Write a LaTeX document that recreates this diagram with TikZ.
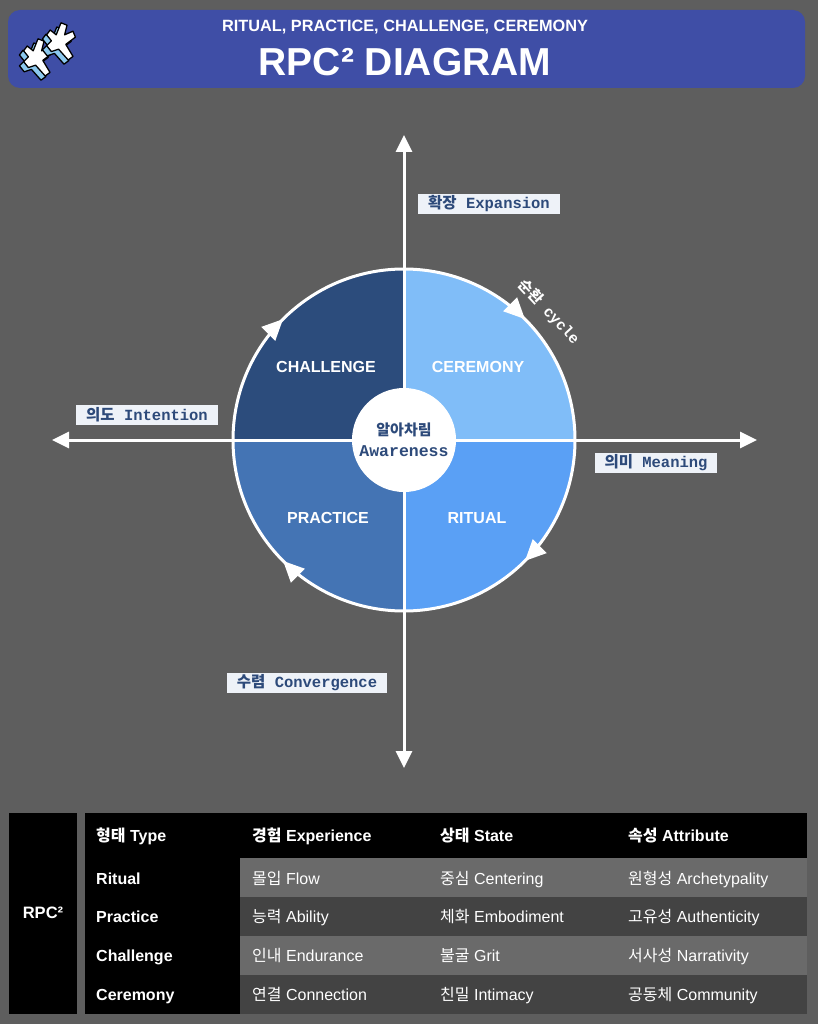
\documentclass[tikz,border=0pt]{standalone}
\usepackage{fontspec}
\setmainfont{Liberation Sans}
\setmonofont{Liberation Mono}
\newfontfamily\kr{Noto Sans CJK KR}
\usepackage{xcolor}
\definecolor{bggray}{RGB}{94,94,94}
\definecolor{headblue}{RGB}{63,78,166}
\definecolor{challengeblue}{RGB}{44,76,124}
\definecolor{ceremonyblue}{RGB}{128,189,248}
\definecolor{practiceblue}{RGB}{68,116,180}
\definecolor{ritualblue}{RGB}{90,160,245}
\definecolor{labelfill}{RGB}{238,242,248}
\definecolor{labeltext}{RGB}{45,74,122}
\definecolor{logoblue}{RGB}{140,200,238}
\definecolor{rowlight}{RGB}{106,106,106}
\definecolor{rowdark}{RGB}{67,67,67}
\usepackage{tikz}
\usetikzlibrary{arrows.meta}
\usetikzlibrary{decorations.markings}
\newcommand{\fsize}[1]{\fontsize{#1}{#1}\selectfont}
\newcommand{\radiusouter}{171}
\newcommand{\radiusinner}{52}
\tikzset{
    axis/.style={white, line width=3pt, {Triangle[length=17pt,width=16pt]}-{Triangle[length=17pt,width=16pt]}},
    axislabel/.style={fill=labelfill, text=labeltext, font=\ttfamily\bfseries\fsize{15.5}, inner xsep=10pt, inner ysep=0pt, minimum height=20pt},
    quadlabel/.style={text=white, font=\bfseries\fsize{16}},
    cycletip/.tip={Triangle[length=21pt,width=19pt]},
    cyclearrows/.style={
        postaction={decorate},
        decoration={markings,
            mark=at position 0.125 with {\arrow[white]{cycletip}},
            mark=at position 0.375 with {\arrow[white]{cycletip}},
            mark=at position 0.625 with {\arrow[white]{cycletip}},
            mark=at position 0.875 with {\arrow[white]{cycletip}}}
    },
    cell/.style={anchor=base west, inner sep=0pt, text=white, font=\fsize{16}},
    headcell/.style={cell, font=\bfseries\fsize{16}},
    typecell/.style={cell, font=\bfseries\fsize{16}},
    logoline/.style={black, line width=1.3pt, line join=round},
    jumper/.pic={
        \draw[logoline, fill=logoblue, shift={(-3.5,3.5)}]
            (-4,-6) -- (0,-16) -- (5,-14) -- (3,-6) -- (10,-9) -- (12,-4) -- (4,2) -- (10,12) -- (6,15)
            -- (-2,6) -- (-8,8) -- (-12,3) -- (-8,-1) -- (-12,-6) -- (-9,-10) -- cycle;
        \draw[logoline, fill=white]
            (-4,-6) -- (0,-16) -- (5,-14) -- (3,-6) -- (10,-9) -- (12,-4) -- (4,2) -- (10,12) -- (6,15)
            -- (-2,6) -- (-8,8) -- (-12,3) -- (-8,-1) -- (-12,-6) -- (-9,-10) -- cycle;
    }
}
\begin{document}
\begin{tikzpicture}[x=1pt, y=-1pt]
    \useasboundingbox (0,0) rectangle (818,1024);
    \fill[bggray] (0,0) rectangle (818,1024);

    \fill[headblue, rounded corners=12pt] (8,10) rectangle (805,88);
    \pic[scale=1.2] at (38,58) {jumper};
    \pic[scale=1.2] at (61,42) {jumper};
    \node[text=white, font=\bfseries\fsize{16.3}] (subtitle) at (405,27) {RITUAL, PRACTICE, CHALLENGE, CEREMONY};
    \node[text=white, font=\bfseries\fsize{39}] (title) at (405,62) {RPC² DIAGRAM};

    \coordinate (c) at (404,440);
    \fill[ritualblue] (c) -- ++(0:\radiusouter) arc[start angle=0, end angle=90, radius=\radiusouter] -- cycle;
    \fill[practiceblue] (c) -- ++(90:\radiusouter) arc[start angle=90, end angle=180, radius=\radiusouter] -- cycle;
    \fill[challengeblue] (c) -- ++(180:\radiusouter) arc[start angle=180, end angle=270, radius=\radiusouter] -- cycle;
    \fill[ceremonyblue] (c) -- ++(270:\radiusouter) arc[start angle=270, end angle=360, radius=\radiusouter] -- cycle;
    \draw[white, line width=3pt, cyclearrows] (c) circle[radius=\radiusouter];

    \coordinate (ax-top) at (404,135);
    \coordinate (ax-bottom) at (404,768);
    \coordinate (ax-left) at (52,440);
    \coordinate (ax-right) at (757,440);
    \draw[axis] (ax-bottom) -- (ax-top);
    \draw[axis] (ax-left) -- (ax-right);

    \node[quadlabel] (challenge) at (326,367) {CHALLENGE};
    \node[quadlabel] (ceremony) at (478,367) {CEREMONY};
    \node[quadlabel] (practice) at (328,518) {PRACTICE};
    \node[quadlabel] (ritual) at (477,518) {RITUAL};

    \node[circle, fill=white, minimum size=2*\radiusinner pt, inner sep=0pt, align=center, text=labeltext] (awareness) at (c)
        {{\kr\bfseries\fsize{15}알아차림}\\[8pt]{\ttfamily\bfseries\fsize{16.5}Awareness}};

    \node[text=white, font=\ttfamily\bfseries\fsize{15}, rotate=-47] (cycle-label) at (549,312) {{\kr 순환} cycle};

    \node[axislabel] (expansion) at (489,204) {{\kr 확장} Expansion};
    \node[axislabel] (intention) at (147,415) {{\kr 의도} Intention};
    \node[axislabel] (meaning) at (656,463) {{\kr 의미} Meaning};
    \node[axislabel] (convergence) at (307,683) {{\kr 수렴} Convergence};

    \fill[black] (9,813) rectangle (77,1014);
    \fill[black] (85,813) rectangle (807,858);
    \fill[black] (85,858) rectangle (240,1014);
    \fill[rowlight] (240,858) rectangle (807,897);
    \fill[rowdark] (240,897) rectangle (807,936);
    \fill[rowlight] (240,936) rectangle (807,975);
    \fill[rowdark] (240,975) rectangle (807,1014);

    \node[text=white, font=\bfseries\fsize{16.5}] (rpc) at (43,913) {RPC²};

    \node[headcell] (h-type) at (96,841) {{\kr 형태} Type};
    \node[headcell] (h-experience) at (252,841) {{\kr 경험} Experience};
    \node[headcell] (h-state) at (440,841) {{\kr 상태} State};
    \node[headcell] (h-attribute) at (628,841) {{\kr 속성} Attribute};

    \node[typecell] (t-ritual) at (96,884) {Ritual};
    \node[cell] (e-ritual) at (252,884) {{\kr 몰입} Flow};
    \node[cell] (s-ritual) at (440,884) {{\kr 중심} Centering};
    \node[cell] (a-ritual) at (628,884) {{\kr 원형성} Archetypality};

    \node[typecell] (t-practice) at (96,922) {Practice};
    \node[cell] (e-practice) at (252,922) {{\kr 능력} Ability};
    \node[cell] (s-practice) at (440,922) {{\kr 체화} Embodiment};
    \node[cell] (a-practice) at (628,922) {{\kr 고유성} Authenticity};

    \node[typecell] (t-challenge) at (96,961) {Challenge};
    \node[cell] (e-challenge) at (252,961) {{\kr 인내} Endurance};
    \node[cell] (s-challenge) at (440,961) {{\kr 불굴} Grit};
    \node[cell] (a-challenge) at (628,961) {{\kr 서사성} Narrativity};

    \node[typecell] (t-ceremony) at (96,1000) {Ceremony};
    \node[cell] (e-ceremony) at (252,1000) {{\kr 연결} Connection};
    \node[cell] (s-ceremony) at (440,1000) {{\kr 친밀} Intimacy};
    \node[cell] (a-ceremony) at (628,1000) {{\kr 공동체} Community};
\end{tikzpicture}
\end{document}
